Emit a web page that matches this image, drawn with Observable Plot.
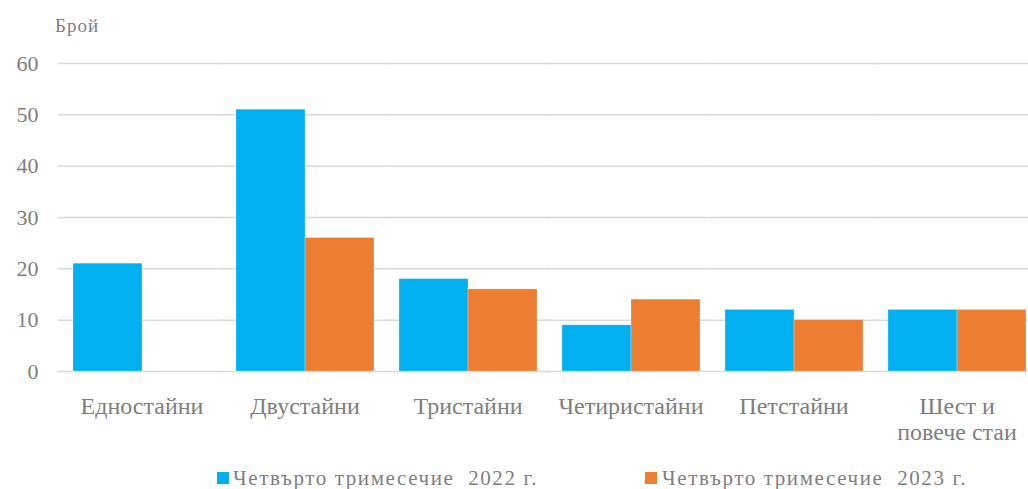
<!DOCTYPE html>
<html>
<head>
<meta charset="utf-8">
<script src="https://cdn.jsdelivr.net/npm/d3@7"></script>
<script src="https://cdn.jsdelivr.net/npm/@observablehq/plot@0.6"></script>
<style>
  html, body { margin: 0; padding: 0; background: #fff; }
  #wrap { position: relative; width: 1028px; height: 489px; overflow: hidden; font-family: "Liberation Serif", "Times New Roman", Tinos, "DejaVu Serif", serif; color: #7f7f7f; }
  #unit { position: absolute; left: 55px; top: 16px; font-size: 19px; line-height: 1; letter-spacing: 1px; }
  .leg { position: absolute; top: 470px; font-size: 21px; line-height: 0.85; letter-spacing: 1.6px; white-space: pre; }
  .sw { position: absolute; width: 12px; height: 12px; top: 472px; }
</style>
</head>
<body>
<div id="wrap">
  <div id="chart"></div>
  <div id="unit"></div>
  <div id="legend"></div>
</div>
<script>
const categories = ["Едностайни", "Двустайни", "Тристайни", "Четиристайни", "Петстайни", "Шест и\nповече стаи"];
const series = ["Четвърто тримесечие  2022 г.", "Четвърто тримесечие  2023 г."];
const values2022 = [21, 51, 18, 9, 12, 12];
const values2023 = [0, 26, 16, 14, 10, 12];
const yTicks = [0, 10, 20, 30, 40, 50, 60];
const colors = ["#00b0f0", "#ed7d31"];
const unitLabel = "Брой";
const FONT = '"Liberation Serif", "Times New Roman", Tinos, "DejaVu Serif", serif';

const data = [];
categories.forEach((c, i) => {
  data.push({cat: c, s: series[0], v: values2022[i]});
  data.push({cat: c, s: series[1], v: values2023[i]});
});

const chart = Plot.plot({
  width: 1028,
  height: 460,
  marginLeft: 71,
  marginRight: 1,
  marginTop: 63,
  marginBottom: 89,
  style: {fontFamily: FONT, color: "#7f7f7f", fontSize: "22px", background: "transparent", overflow: "visible"},
  fx: {domain: categories, paddingInner: 0.15, paddingOuter: 0, axis: null, label: null},
  x: {domain: series, padding: 0, axis: null},
  y: {domain: [0, 60], ticks: yTicks, tickSize: 0, tickPadding: 34, label: null, tickFormat: d => String(d)},
  color: {domain: series, range: colors},
  marks: [
    Plot.ruleY(yTicks, {y: d => d, stroke: "#d9d9d9", strokeWidth: 1.5, insetLeft: -14, insetRight: -13}),
    Plot.barY(data, {fx: "cat", x: "s", y: "v", fill: "s", stroke: "#ffffff", strokeOpacity: 0.35, strokeWidth: 0.75}),
    Plot.text(categories, {fx: d => d, text: d => d, frameAnchor: "bottom", lineAnchor: "top", dy: 25, lineHeight: 1.05, fontSize: 24, fontFamily: FONT, fill: "#7f7f7f", style: "letter-spacing:1px"})
  ]
});
document.getElementById("chart").appendChild(chart);
document.getElementById("unit").textContent = unitLabel;

const legend = document.getElementById("legend");
const legPos = [[217, 233], [645, 662]];
series.forEach((s, i) => {
  const sw = document.createElement("div");
  sw.className = "sw";
  sw.style.left = legPos[i][0] + "px";
  sw.style.background = colors[i];
  legend.appendChild(sw);
  const t = document.createElement("div");
  t.className = "leg";
  t.style.left = legPos[i][1] + "px";
  t.textContent = s;
  legend.appendChild(t);
});
</script>
</body>
</html>
